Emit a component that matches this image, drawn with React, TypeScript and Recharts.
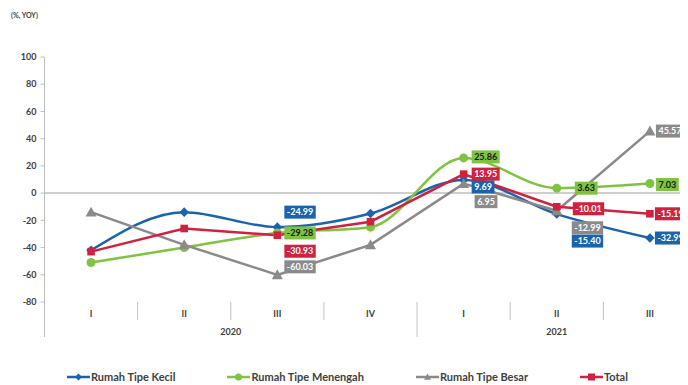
import React from "react";
import {
  LineChart,
  Line,
  XAxis,
  YAxis,
  ReferenceLine,
  LabelList,
} from "recharts";

const quarters = ["I", "II", "III", "IV", "I", "II", "III"];
const years = ["2020", "2020", "2020", "2020", "2021", "2021", "2021"];
const kecil = [-42, -14, -24.99, -15, 9.69, -15.4, -32.99];
const menengah = [-51, -40, -29.28, -25, 25.86, 3.63, 7.03];
const besar = [-14, -38, -60.03, -38, 6.95, -12.99, 45.57];
const total = [-43, -26, -30.93, -21, 13.95, -10.01, -15.19];
const yTicks = [-80, -60, -40, -20, 0, 20, 40, 60, 80, 100];

const data = quarters.map((q, i) => ({
  cat: q + " " + years[i],
  kecil: kecil[i],
  menengah: menengah[i],
  besar: besar[i],
  total: total[i],
}));

const CHART_W = 720;
const CHART_H = 385;
const margin = { top: 57, right: 23.5, left: 8.5, bottom: 43 };
const Y_W = 36;
const BW = (CHART_W - margin.left - margin.right - Y_W) / quarters.length;

const FONT = "Lato, 'DejaVu Sans', sans-serif";
const TXT = "#404040";
const GRID = "#bfbfbf";

const BLUE = "#1a63ad";
const GREEN = "#80c342";
const GRAY = "#8a8a8a";
const RED = "#d0213e";

// label box offsets per series: index -> [dx from point to box left, dy of box centre]
const kecilLabels: Record<number, number[]> = { 2: [7, -15], 4: [8, 7], 5: [15, 27], 6: [5, 0] };
const menengahLabels: Record<number, number[]> = { 2: [7, 0], 4: [8, -1], 5: [18, 0], 6: [6, 1] };
const besarLabels: Record<number, number[]> = { 2: [7, -8], 4: [11, 18], 5: [15, 17], 6: [6, 0] };
const totalLabels: Record<number, number[]> = { 2: [7, 16], 4: [8, 0], 5: [16, 2], 6: [5, 0] };

const LABEL_FONT_SIZE = 9;

let ctx: CanvasRenderingContext2D | null = null;
function textWidth(s: string, font: string) {
  if (!ctx) ctx = document.createElement("canvas").getContext("2d");
  if (!ctx) return s.length * 5.2;
  ctx.font = font;
  return ctx.measureText(s).width;
}

function boxLabel(fill: string, color: string, offsets: Record<number, number[]>) {
  return (props: any) => {
    const { x, y, value, index } = props;
    const off = offsets[index];
    if (!off) return null;
    const s = Number(value).toFixed(2);
    const w = textWidth(s, `bold ${LABEL_FONT_SIZE}px Lato`) + 5;
    const left = x + off[0];
    const cy = y + off[1];
    return (
      <g>
        <rect x={left} y={cy - 6.5} width={w} height={13} fill={fill} />
        <text
          x={left + w / 2}
          y={cy + 3.2}
          textAnchor="middle"
          fontFamily={FONT}
          fontWeight="bold"
          fontSize={LABEL_FONT_SIZE}
          fill={color}
        >
          {s}
        </text>
      </g>
    );
  };
}

function Diamond({ cx, cy, fill, r = 4.8 }: any) {
  return <polygon points={`${cx},${cy - r} ${cx + r},${cy} ${cx},${cy + r} ${cx - r},${cy}`} fill={fill} />;
}
function Circle({ cx, cy, fill, r = 4.5 }: any) {
  return <circle cx={cx} cy={cy} r={r} fill={fill} />;
}
function Triangle({ cx, cy, fill, r = 5.5 }: any) {
  return <polygon points={`${cx},${cy - r} ${cx + r},${cy + r * 0.8} ${cx - r},${cy + r * 0.8}`} fill={fill} />;
}
function Square({ cx, cy, fill, r = 3.8 }: any) {
  return <rect x={cx - r} y={cy - r} width={r * 2} height={r * 2} fill={fill} />;
}

function QuarterTick(props: any) {
  const { x, y, payload } = props;
  const i = payload.index;
  const half = BW / 2;
  const last = quarters.length - 1;
  const yearEnds = i < last && years[i + 1] !== years[i];
  const firstOfYear = i === 0 || years[i - 1] !== years[i];
  const count = years.filter((yy) => yy === years[i]).length;
  return (
    <g>
      <text x={x} y={y + 14.5} textAnchor="middle" fontFamily={FONT} fontWeight="bold" fontSize={9} fill={TXT}>
        {quarters[i]}
      </text>
      {i < last && (
        <line x1={x + half} x2={x + half} y1={y} y2={y + (yearEnds ? 35 : 18)} stroke={GRID} strokeWidth={1} />
      )}
      {i === 0 && <line x1={x - half} x2={x - half} y1={y} y2={y + 35} stroke={GRID} strokeWidth={1} />}
      {firstOfYear && (
        <text
          x={x + ((count - 1) / 2) * BW}
          y={y + 32.5}
          textAnchor="middle"
          fontFamily={FONT}
          fontWeight="bold"
          fontSize={9}
          fill={TXT}
        >
          {years[i]}
        </text>
      )}
    </g>
  );
}

const legendItems = [
  { name: "Rumah Tipe Kecil", color: BLUE, Mark: Diamond },
  { name: "Rumah Tipe Menengah", color: GREEN, Mark: Circle },
  { name: "Rumah Tipe Besar", color: GRAY, Mark: Triangle },
  { name: "Total", color: RED, Mark: Square },
];

export default function App() {
  return (
    <div
      style={{
        position: "relative",
        marginLeft: -8,
        marginTop: -8,
        width: 688,
        height: 385,
        overflow: "hidden",
        background: "#fff",
      }}
    >
      <div
        style={{
          position: "absolute",
          left: 11,
          top: 11,
          fontFamily: FONT,
          fontWeight: "bold",
          fontSize: 7,
          color: TXT,
        }}
      >
        (%, YOY)
      </div>
      <LineChart width={CHART_W} height={CHART_H} data={data} margin={margin}>
        <XAxis
          dataKey="cat"
          height={40}
          axisLine={false}
          tickLine={false}
          tickSize={0}
          tickMargin={0}
          interval={0}
          padding={{ left: BW / 2, right: BW / 2 }}
          tick={<QuarterTick />}
        />
        <YAxis
          width={Y_W}
          domain={[-80, 100]}
          ticks={yTicks}
          interval={0}
          axisLine={{ stroke: GRID, strokeWidth: 1 }}
          tickLine={{ stroke: GRID }}
          tickSize={4}
          tickMargin={4}
          tick={{ fill: TXT, fontSize: 9, fontWeight: "bold", fontFamily: FONT }}
        />
        <ReferenceLine y={0} stroke={GRID} strokeWidth={1.5} />
        <Line
          type="monotone"
          dataKey="kecil"
          stroke={BLUE}
          strokeWidth={2.5}
          dot={(p: any) => <Diamond key={p.index} cx={p.cx} cy={p.cy} fill={BLUE} />}
          isAnimationActive={false}
        />
        <Line
          type="monotone"
          dataKey="menengah"
          stroke={GREEN}
          strokeWidth={2.5}
          dot={(p: any) => <Circle key={p.index} cx={p.cx} cy={p.cy} fill={GREEN} />}
          isAnimationActive={false}
        />
        <Line
          type="linear"
          dataKey="besar"
          stroke={GRAY}
          strokeWidth={2.5}
          dot={(p: any) => <Triangle key={p.index} cx={p.cx} cy={p.cy} fill={GRAY} />}
          isAnimationActive={false}
        />
        <Line
          type="linear"
          dataKey="total"
          stroke={RED}
          strokeWidth={2.5}
          dot={(p: any) => <Square key={p.index} cx={p.cx} cy={p.cy} fill={RED} />}
          isAnimationActive={false}
        />
        {/* label-only series so the boxes sit above every line */}
        <Line dataKey="kecil" stroke="none" dot={false} activeDot={false} legendType="none" isAnimationActive={false}>
          <LabelList dataKey="kecil" content={boxLabel(BLUE, "#fff", kecilLabels)} />
        </Line>
        <Line dataKey="menengah" stroke="none" dot={false} activeDot={false} legendType="none" isAnimationActive={false}>
          <LabelList dataKey="menengah" content={boxLabel(GREEN, "#1a1a1a", menengahLabels)} />
        </Line>
        <Line dataKey="besar" stroke="none" dot={false} activeDot={false} legendType="none" isAnimationActive={false}>
          <LabelList dataKey="besar" content={boxLabel(GRAY, "#fff", besarLabels)} />
        </Line>
        <Line dataKey="total" stroke="none" dot={false} activeDot={false} legendType="none" isAnimationActive={false}>
          <LabelList dataKey="total" content={boxLabel(RED, "#fff", totalLabels)} />
        </Line>
      </LineChart>
      <div
        style={{
          position: "absolute",
          left: 67,
          top: 369,
          display: "flex",
          gap: 52,
          fontFamily: FONT,
          fontWeight: "bold",
          fontSize: 11,
          color: TXT,
          whiteSpace: "nowrap",
        }}
      >
        {legendItems.map(({ name, color, Mark }) => (
          <div key={name} style={{ display: "flex", alignItems: "center", height: 15 }}>
            <svg width={23} height={12} style={{ marginRight: 1 }}>
              <line x1={0} x2={23} y1={6} y2={6} stroke={color} strokeWidth={2.5} />
              <Mark cx={11.5} cy={6} fill={color} r={3.5} />
            </svg>
            {name}
          </div>
        ))}
      </div>
    </div>
  );
}
